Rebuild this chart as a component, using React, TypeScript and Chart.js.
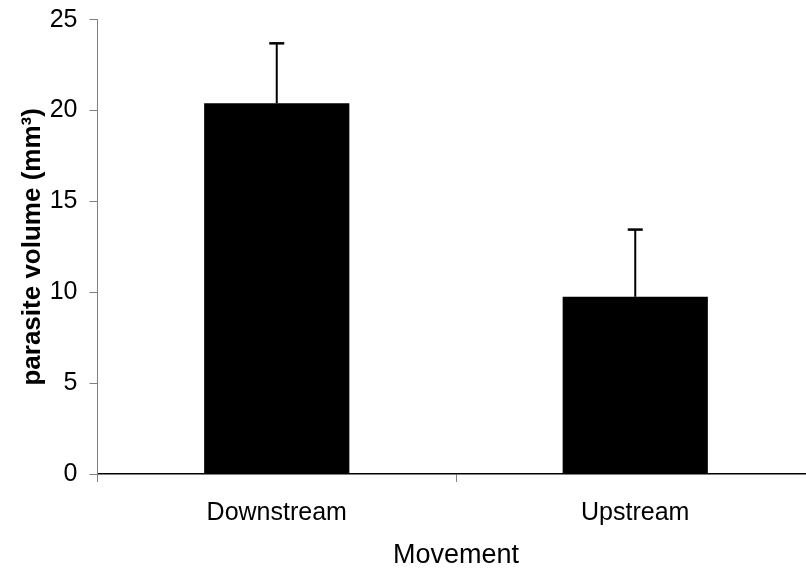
import React, { useEffect, useRef } from "react";
import { Chart, registerables } from "chart.js";

Chart.register(...registerables);

const categories = ["Downstream", "Upstream"];
const means = [20.4, 9.75];
const errors = [3.3, 3.7];
const yTicks = [0, 5, 10, 15, 20, 25];

const FONT = "'Liberation Sans', Arial, Helvetica, sans-serif";

const errorBarPlugin = {
  id: "errorBars",
  afterDatasetsDraw(chart: any) {
    const ctx = chart.ctx;
    const meta = chart.getDatasetMeta(0);
    const y = chart.scales.y;
    ctx.save();
    ctx.strokeStyle = "#000";
    meta.data.forEach((bar: any, i: number) => {
      const x = bar.x;
      const yTop = y.getPixelForValue(means[i] + errors[i]);
      const yBase = y.getPixelForValue(means[i]);
      ctx.lineWidth = 2;
      ctx.beginPath();
      ctx.moveTo(x, yBase);
      ctx.lineTo(x, yTop);
      ctx.stroke();
      ctx.lineWidth = 2.5;
      ctx.beginPath();
      ctx.moveTo(x - 7.5, yTop);
      ctx.lineTo(x + 7.5, yTop);
      ctx.stroke();
    });
    ctx.restore();
  },
};

export default function App() {
  const ref = useRef<HTMLCanvasElement | null>(null);
  useEffect(() => {
    if (!ref.current) return;
    const chart = new Chart(ref.current, {
      type: "bar",
      data: {
        labels: categories,
        datasets: [
          {
            data: means,
            backgroundColor: "#000000",
            borderWidth: 0,
            barPercentage: 0.405,
            categoryPercentage: 1,
          },
        ],
      },
      options: {
        animation: false,
        responsive: false,
        maintainAspectRatio: false,
        layout: { padding: { top: 19.7, right: 15.5, left: 0, bottom: 0 } },
        plugins: {
          legend: { display: false },
          tooltip: { enabled: false },
        },
        scales: {
          x: {
            type: "category",
            offset: true,
            grid: {
              offset: true,
              drawOnChartArea: false,
              drawTicks: true,
              tickLength: 8,
              color: "#808080",
            },
            border: { display: true, color: "#000", width: 1.5 },
            ticks: {
              color: "#000",
              padding: 16,
              font: { family: FONT, size: 25 },
              maxRotation: 0,
            },
            title: {
              display: true,
              text: "Movement",
              color: "#000",
              font: { family: FONT, size: 27 },
              padding: { top: 0, bottom: 3 },
            },
            afterFit(scale: any) {
              scale.height = 101;
              scale.paddingLeft = 0;
              scale.paddingRight = 0;
            },
          },
          y: {
            min: 0,
            max: 25,
            afterBuildTicks(scale: any) {
              scale.ticks = yTicks.map((v) => ({ value: v }));
            },
            grid: {
              drawOnChartArea: false,
              drawTicks: true,
              tickLength: 8,
              color: "#808080",
            },
            border: { display: true, color: "#808080", width: 1 },
            ticks: {
              color: "#000",
              padding: 12,
              font: { family: FONT, size: 25 },
            },
            title: {
              display: true,
              text: "parasite volume (mm³)",
              color: "#000",
              font: { family: FONT, size: 26, weight: "bold" },
              padding: { top: 17, bottom: 0 },
            },
            afterFit(scale: any) {
              scale.width = 97.5;
              scale.paddingTop = 0;
              scale.paddingBottom = 0;
            },
          },
        },
      },
      plugins: [errorBarPlugin],
    } as any);
    return () => chart.destroy();
  }, []);

  return (
    <div
      style={{
        position: "fixed",
        left: 0,
        top: 0,
        width: 806,
        height: 575,
        overflow: "hidden",
        background: "#fff",
      }}
    >
      <canvas ref={ref} width={830} height={575} style={{ width: 830, height: 575, display: "block" }} />
    </div>
  );
}
